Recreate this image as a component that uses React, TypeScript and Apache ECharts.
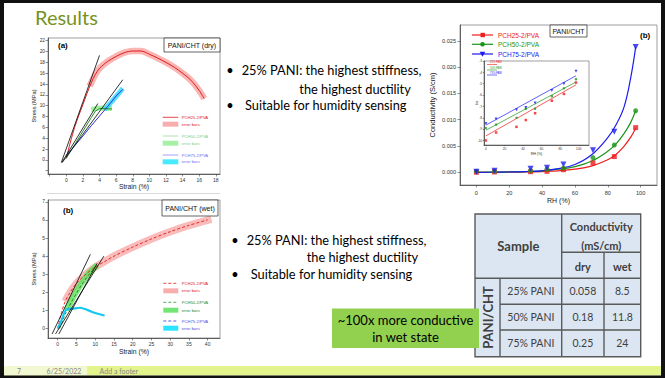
import React, { useEffect, useRef } from "react";
import * as echarts from "echarts";

// ---------- (a) dry stress-strain (Strain %, Stress MPa) ----------
const dryRed = [[0, 0.3], [0.5, 3.3], [1, 6.0], [1.5, 8.2], [2, 10.2], [2.5, 12.3], [3, 14.2], [3.5, 15.8], [4, 16.9], [4.5, 17.6], [5, 18.2], [6, 19.1], [7, 19.8], [8, 20.1], [9, 20.1], [10, 19.5], [11, 18.8], [12, 18.0], [13, 17.1], [14, 16.0], [15, 14.7], [16, 12.8], [16.6, 11.3]];
const dryRedBand = [[2.8, 13.6], [3.5, 15.8], [4, 16.9], [4.5, 17.6], [5, 18.2], [6, 19.1], [7, 19.8], [8, 20.1], [9, 20.1], [10, 19.5], [11, 18.8], [12, 18.0], [13, 17.1], [14, 16.0], [15, 14.7], [16, 12.8], [16.6, 11.3]];
const dryGreen = [[0, 0.3], [1, 2.8], [2, 5.3], [3, 7.8], [3.5, 9.0], [4, 9.5], [5.5, 9.4]];
const dryGreenBand = [[3, 9.3], [4, 9.6], [5.5, 9.5]];
const dryBlue = [[0, 0.8], [1, 2.6], [2, 4.4], [3, 6.3], [4, 8.1], [5, 9.9], [6, 11.8], [6.8, 13.0]];
const dryBlueBand = [[4.6, 9.3], [5.5, 10.8], [6.2, 12.1], [6.8, 13.2]];
const dryTangents = [[[-0.6, -0.5], [4, 19.3]], [[-0.5, -0.4], [3.8, 10.4]], [[-0.5, -0.5], [6.8, 14.8]]];

// ---------- (b) wet stress-strain ----------
const wetRed = [[0, 0], [1, 0.9], [2, 1.5], [3, 1.9], [5, 2.5], [7.5, 3.0], [10, 3.4], [12.5, 3.7], [15, 4.0], [20, 4.5], [25, 4.95], [30, 5.35], [35, 5.7], [40, 6.0]];
const wetRedBand = [[2, 1.5], [3, 1.9], [5, 2.5], [7.5, 3.0], [10, 3.4], [12.5, 3.7], [15, 4.0], [20, 4.5], [25, 4.95], [30, 5.35], [35, 5.7], [41, 6.05]];
const wetGreen = [[0.5, 0], [2, 0.8], [4, 1.6], [6, 2.3], [8, 2.9], [10, 3.4]];
const wetGreenBand = [[2.3, 1.0], [4, 1.7], [6, 2.4], [8, 3.0], [10.5, 3.5]];
const wetCyan = [[0, 0], [1, 0.45], [2.3, 1.05], [4, 1.1], [6, 1.15], [8, 1.02], [10, 0.86], [12.5, 0.72]];
const wetTangents = [[[-1.5, -0.3], [8.7, 4.1]], [[-0.6, -0.3], [12.3, 4.0]], [[0.3, -0.3], [10.5, 3.6]]];

// ---------- conductivity vs RH ----------
const rh = [0, 11, 33, 43, 53, 71, 84, 97];
const cond25 = [0.00002, 0.00008, 0.00012, 0.0002, 0.0005, 0.0018, 0.0030, 0.0085];
const cond50 = [0.0002, 0.0002, 0.0003, 0.0006, 0.0008, 0.0028, 0.0052, 0.0117];
const cond75 = [0.0001, 0.0003, 0.0007, 0.0009, 0.0015, 0.0042, 0.0077, 0.0238];
const fitRH = [0, 10, 20, 30, 40, 50, 60, 70, 80, 85, 90, 94, 97];
const fit25 = [0.00001, 0.00002, 0.00004, 0.00008, 0.00016, 0.0003, 0.0006, 0.0012, 0.0024, 0.0034, 0.0050, 0.0067, 0.0084];
const fit50 = [0.00002, 0.00004, 0.00008, 0.00015, 0.0003, 0.0006, 0.0011, 0.0021, 0.0040, 0.0054, 0.0074, 0.0095, 0.0117];
const fit75 = [0.00001, 0.00003, 0.00007, 0.00015, 0.0003, 0.0007, 0.0015, 0.0033, 0.0066, 0.0090, 0.0125, 0.018, 0.0238];

// ---------- inset ln(conductivity) ----------
const ln25 = [-10.0, -9.3, -8.8, -8.2, -7.6, -6.5, -5.9, -4.9];
const ln50 = [-8.9, -8.6, -8.0, -7.2, -7.2, -6.1, -5.4, -4.6];
const ln75 = [-8.5, -8.1, -7.3, -7.1, -6.7, -5.6, -5.0, -3.9];
const lnFitRH = [0, 97];
const lnFit25 = [-9.6, -5.1];
const lnFit50 = [-9.1, -4.85];
const lnFit75 = [-8.65, -4.3];

// ---------- tick labels ----------
const aXLabels = [0, 2, 4, 6, 8, 10, 12, 14, 16, 18];
const aXTicks = [-2, 0, 2, 4, 6, 8, 10, 12, 14, 16, 18];
const aYLabels = [0, 2, 4, 6, 8, 10, 12, 14, 16, 18, 20, 22];
const aYTicks = [-2, 0, 2, 4, 6, 8, 10, 12, 14, 16, 18, 20, 22];
const bXLabels = [0, 5, 10, 15, 20, 25, 30, 35, 40];
const bYLabels = [0, 1, 2, 3, 4, 5, 6, 7];
const cXLabels = [0, 20, 40, 60, 80, 100];
const cYLabels = [0, 0.005, 0.01, 0.015, 0.02, 0.025];
const iXLabels = [0, 20, 40, 60, 80, 100];
const iYLabels = [-10, -9, -8, -7, -6, -5, -4, -3];

// ---------- table ----------
const tableSamples = ["25% PANI", "50% PANI", "75% PANI"];
const tableDry = ["0.058", "0.18", "0.25"];
const tableWet = ["8.5", "11.8", "24"];

const seriesNames = ["PCH25-2/PVA", "PCH50-2/PVA", "PCH75-2/PVA"];
const bullets1 = ["25% PANI: the highest stiffness,", "the highest ductility", "Suitable for humidity sensing"];

const RED = "#ee1c1c", GREEN = "#1a961a", BLUE = "#1c1cf0";
const CF = "Liberation Sans";
const SF = "Lato";

function axis(o: any) {
  return {
    type: "value",
    gridIndex: o.grid,
    min: o.min,
    max: o.max,
    name: o.name,
    nameLocation: "middle",
    nameGap: o.nameGap,
    nameMoveOverlap: false,
    nameTextStyle: { fontSize: o.nameSize, color: "#222", fontFamily: CF },
    axisLine: { show: true, onZero: false, lineStyle: { color: "#444", width: 0.8 } },
    axisTick: { show: true, length: o.tickLen ?? 2.5, customValues: o.ticks ?? o.labels, lineStyle: { color: "#444", width: 0.6 } },
    axisLabel: {
      show: true, customValues: o.labels, fontSize: o.labelSize, margin: o.margin,
      color: "#333", fontFamily: CF, formatter: o.fmt,
    },
    splitLine: { show: false },
  };
}

function ln(xi: number, data: any, color: string, width: number, extra: any = {}) {
  return {
    type: "line", xAxisIndex: xi, yAxisIndex: xi, data, symbol: "none", silent: true,
    lineStyle: { color, width, ...(extra.lineStyle || {}) }, z: extra.z ?? 3, smooth: extra.smooth ?? false,
  };
}

function txt(x: number, y: number, text: string, size: number, o: any = {}) {
  return {
    type: "text", x, y, silent: true, z: 100, rotation: o.rot || 0,
    style: {
      text, fontSize: size, fontFamily: o.family || CF, fontWeight: o.bold ? "bold" : "normal",
      fill: o.color || "#000", textAlign: o.align || "left", textVerticalAlign: "middle",
    },
  };
}
function rect(x: number, y: number, w: number, h: number, fill: string, stroke?: string, lw?: number) {
  return { type: "rect", silent: true, z: 100, shape: { x, y, width: w, height: h }, style: { fill, stroke: stroke || null, lineWidth: lw || 0 } };
}
function seg(x1: number, y1: number, x2: number, y2: number, stroke: string, lw: number, dash?: number[]) {
  return { type: "line", silent: true, z: 100, shape: { x1, y1, x2, y2 }, style: { stroke, lineWidth: lw, lineDash: dash || null } };
}

function buildOption() {
  const pair = (xs: number[], ys: number[]) => xs.map((x, i) => [x, ys[i]]);
  const series: any[] = [];
  // (a)
  series.push(ln(0, dryRedBand, "rgba(245,120,120,0.55)", 6.5, { z: 2, smooth: 0.3 }));
  series.push(ln(0, dryGreenBand, "rgba(130,235,130,0.75)", 5, { z: 2 }));
  series.push(ln(0, dryBlueBand, "rgba(40,215,255,0.8)", 5, { z: 2 }));
  series.push(ln(0, dryRed, "#e01a1a", 1, { smooth: 0.3 }));
  series.push(ln(0, dryGreen, "#2a8f2a", 1));
  series.push(ln(0, dryBlue, "#2f2fd8", 1));
  dryTangents.forEach((t) => series.push(ln(0, t, "#000", 0.8, { z: 4 })));
  // (b)
  series.push(ln(1, wetRedBand, "rgba(245,120,120,0.5)", 7.5, { z: 2, smooth: 0.3 }));
  series.push(ln(1, wetGreenBand, "rgba(90,225,90,0.8)", 6, { z: 2 }));
  series.push(ln(1, wetRed, "#e01a1a", 0.9, { smooth: 0.3, lineStyle: { type: [3, 2] } }));
  series.push(ln(1, wetGreen, "#1e801e", 0.9, { lineStyle: { type: [3, 2] } }));
  series.push(ln(1, wetCyan, "#14c8f2", 2.2, { smooth: 0.3 }));
  wetTangents.forEach((t) => series.push(ln(1, t, "#000", 0.8, { z: 4 })));
  // conductivity
  series.push(ln(2, pair(fitRH, fit25), RED, 1.2, { smooth: 0.4 }));
  series.push(ln(2, pair(fitRH, fit50), GREEN, 1.2, { smooth: 0.4 }));
  series.push(ln(2, pair(fitRH, fit75), BLUE, 1.2, { smooth: 0.4 }));
  const sc = (xi: number, data: any, color: string, symbol: string, size: number, rot = 0) => ({
    type: "scatter", xAxisIndex: xi, yAxisIndex: xi, data, symbol, symbolSize: size, symbolRotate: rot,
    itemStyle: { color }, silent: true, z: 5,
  });
  series.push(sc(2, pair(rh, cond25), RED, "rect", 5));
  series.push(sc(2, pair(rh, cond50), GREEN, "circle", 5));
  series.push(sc(2, pair(rh, cond75), BLUE, "triangle", 6, 180));
  // inset
  series.push(ln(3, pair(lnFitRH, lnFit25), RED, 0.7));
  series.push(ln(3, pair(lnFitRH, lnFit50), GREEN, 0.7));
  series.push(ln(3, pair(lnFitRH, lnFit75), BLUE, 0.7));
  series.push(sc(3, pair(rh, ln25), RED, "rect", 2.5));
  series.push(sc(3, pair(rh, ln50), GREEN, "circle", 2.5));
  series.push(sc(3, pair(rh, ln75), BLUE, "triangle", 3, 180));

  const grid = (left: number, top: number, width: number, height: number, bg = "transparent") => ({
    left, top, width, height, show: true, borderColor: "#777", borderWidth: 0.7, backgroundColor: bg,
    containLabel: false, outerBoundsMode: "none",
  });

  const g: any[] = [];
  // slide frame & footer
  g.push(rect(4, 366, 657, 9.5, "#e4f48c"));
  g.push(rect(4, 366, 83, 9.5, "#f2f9d2"));
  g.push(txt(19, 371, "7", 7, { family: SF, color: "#888", align: "center" }));
  g.push(txt(46.6, 371, "6/25/2022", 7, { family: SF, color: "#888" }));
  g.push(txt(99.6, 371, "Add a footer", 7, { family: SF, color: "#888" }));
  g.push(rect(0, 0, 665, 3, "#111"));
  g.push(rect(0, 0, 4, 378, "#111"));
  g.push(rect(661, 0, 4, 378, "#111"));
  g.push(rect(0, 375.5, 665, 2.5, "#111"));
  // title
  g.push(txt(35, 17, "Results", 20, { family: SF, color: "#76921e" }));
  g.push(seg(47, 193.5, 220, 193.5, "#d0d0d0", 0.8));

  // (a) annotations
  g.push(txt(58, 45.5, "(a)", 8, { bold: true }));
  g.push(rect(164, 38, 56, 14, "#fff", "#222", 0.7));
  g.push(txt(192, 45, "PANI/CHT (dry)", 7, { align: "center", color: "#111" }));
  const legA = [
    { y: 117.3, ry: 121.7, line: "#e01a1a", band: "rgba(245,120,120,0.6)", tc: "#e01a1a" },
    { y: 136, ry: 140.7, line: "#9ad89a", band: "rgba(130,235,130,0.7)", tc: "#86cc86" },
    { y: 155, ry: 159.3, line: "#8a8aff", band: "rgba(40,230,255,0.85)", tc: "#7070f0" },
  ];
  legA.forEach((l, i) => {
    g.push(seg(162.7, l.y, 178.3, l.y, l.line, 0.8));
    g.push(txt(181.7, l.y, seriesNames[i], 4.2, { color: l.tc }));
    g.push(rect(162.7, l.ry, 15.6, 5, l.band));
    g.push(txt(181.7, l.ry + 2.5, "error bars", 4.2, { color: l.tc }));
  });
  // (b) annotations
  g.push(txt(63, 210, "(b)", 8, { bold: true }));
  g.push(rect(162, 200, 56, 16, "#fff", "#222", 0.7));
  g.push(txt(190, 208, "PANI/CHT (wet)", 7, { align: "center", color: "#111" }));
  const legB = [
    { y: 283.3, ry: 288.3, line: "#e01a1a", band: "rgba(245,120,120,0.6)", tc: "#e01a1a" },
    { y: 302.3, ry: 307.7, line: "#2a9a2a", band: "rgba(90,225,90,0.85)", tc: "#2a8a2a" },
    { y: 321, ry: 325.7, line: "#3030e0", band: "rgba(20,225,255,0.9)", tc: "#5050e0" },
  ];
  legB.forEach((l, i) => {
    g.push(seg(163.3, l.y, 178.3, l.y, l.line, 0.8, [3, 2]));
    g.push(txt(181.7, l.y, seriesNames[i], 4.2, { color: l.tc }));
    g.push(rect(163.3, l.ry, 15, 5, l.band));
    g.push(txt(181.7, l.ry + 2.5, "error bars", 4.2, { color: l.tc }));
  });

  // right chart annotations
  g.push(rect(550, 25, 37, 12, "#fff", "#222", 0.7));
  g.push(txt(568.5, 31, "PANI/CHT", 7, { align: "center", color: "#111" }));
  g.push(txt(640, 35, "(b)", 8, { bold: true }));
  const legC = [
    { y: 35, c: RED, m: "rect" },
    { y: 44.3, c: GREEN, m: "circle" },
    { y: 54, c: BLUE, m: "tri" },
  ];
  legC.forEach((l, i) => {
    g.push(seg(472, l.y, 493, l.y, l.c, 1.2));
    if (l.m === "rect") g.push({ type: "rect", silent: true, z: 100, shape: { x: 480.5, y: l.y - 2.2, width: 4.4, height: 4.4 }, style: { fill: l.c } });
    else if (l.m === "circle") g.push({ type: "circle", silent: true, z: 100, shape: { cx: 482.5, cy: l.y, r: 2.3 }, style: { fill: l.c } });
    else g.push({ type: "polygon", silent: true, z: 100, shape: { points: [[479.7, l.y - 2.3], [485.3, l.y - 2.3], [482.5, l.y + 2.8]] }, style: { fill: l.c } });
    g.push(txt(498, l.y, seriesNames[i], 6.5, { color: l.c }));
  });
  // inset legend
  [64.5, 70, 75].forEach((y, i) => {
    const c = [RED, GREEN, BLUE][i];
    g.push(seg(487, y, 497, y, c, 0.6));
    g.push(txt(490, y - 1.6, ["25% PANI", "50% PANI", "75% PANI"][i], 2.6, { color: c }));
  });

  // bullets
  const BF = 12.8;
  const bset = (bx: number, tx: number, t2x: number, t3x: number, y1: number, y2: number, y3: number) => {
    g.push(txt(bx, y1, "•", BF, { family: SF, align: "center" }));
    g.push(txt(tx, y1, bullets1[0], BF, { family: SF }));
    g.push(txt(t2x, y2, bullets1[1], BF, { family: SF }));
    g.push(txt(bx, y3, "•", BF, { family: SF, align: "center" }));
    g.push(txt(t3x, y3, bullets1[2], BF, { family: SF }));
  };
  bset(230, 241.7, 299.3, 245, 70, 88.5, 105);
  bset(235, 246.7, 306.7, 250.7, 240, 257.3, 274.3);

  // table
  const TX = [475, 500, 561.7, 604, 640.7];
  const TY = [214, 252.3, 278.3, 304.3, 330, 356.7];
  const bc = "#5a5a5a", tw = 1.4, tc = "#404040";
  g.push(rect(TX[0], TY[0], TX[4] - TX[0], TY[5] - TY[0], "#dce6f2"));
  g.push(seg(TX[2], TY[1], TX[4], TY[1], bc, tw));
  g.push(seg(TX[0], TY[2], TX[4], TY[2], bc, tw));
  g.push(seg(TX[1], TY[3], TX[4], TY[3], bc, tw));
  g.push(seg(TX[1], TY[4], TX[4], TY[4], bc, tw));
  g.push(seg(TX[1], TY[2], TX[1], TY[5], bc, tw));
  g.push(seg(TX[2], TY[0], TX[2], TY[5], bc, tw));
  g.push(seg(TX[3], TY[1], TX[3], TY[5], bc, tw));
  g.push({ type: "rect", silent: true, z: 100, shape: { x: TX[0], y: TY[0], width: TX[4] - TX[0], height: TY[5] - TY[0] }, style: { fill: null, stroke: bc, lineWidth: tw } });
  g.push(txt((TX[0] + TX[2]) / 2, 246, "Sample", 13, { family: SF, bold: true, color: tc, align: "center" }));
  g.push(txt((TX[2] + TX[4]) / 2, 226, "Conductivity", 11, { family: SF, bold: true, color: tc, align: "center" }));
  g.push(txt((TX[2] + TX[4]) / 2, 245.5, "(mS/cm)", 11, { family: SF, bold: true, color: tc, align: "center" }));
  g.push(txt((TX[2] + TX[3]) / 2, 266, "dry", 11, { family: SF, bold: true, color: tc, align: "center" }));
  g.push(txt((TX[3] + TX[4]) / 2, 266, "wet", 11, { family: SF, bold: true, color: tc, align: "center" }));
  g.push(txt(487.5, 317.5, "PANI/CHT", 13, { family: SF, bold: true, color: tc, align: "center", rot: Math.PI / 2 }));
  tableSamples.forEach((s, i) => {
    const y = (TY[i + 2] + TY[i + 3]) / 2;
    g.push(txt((TX[1] + TX[2]) / 2, y, s, 10.5, { family: SF, color: tc, align: "center" }));
    g.push(txt((TX[2] + TX[3]) / 2, y, tableDry[i], 10.5, { family: SF, color: tc, align: "center" }));
    g.push(txt((TX[3] + TX[4]) / 2, y, tableWet[i], 10.5, { family: SF, color: tc, align: "center" }));
  });

  // green note box
  g.push(rect(332, 308.5, 147, 39.5, "#92d050"));
  g.push(txt(405.5, 320, "~100x more conductive", 13, { family: SF, align: "center" }));
  g.push(txt(405.5, 336.7, "in wet state", 13, { family: SF, align: "center" }));

  return {
    animation: false,
    backgroundColor: "#fff",
    grid: [grid(48, 38, 172, 136), grid(48, 200, 172, 138), grid(460, 25, 197, 160), grid(484, 61, 105, 84, "#fff")],
    xAxis: [
      axis({ grid: 0, min: -2.2, max: 18.5, labels: aXLabels, ticks: aXTicks, name: "Strain (%)", nameGap: 9, nameSize: 6.8, labelSize: 5, margin: 3 }),
      axis({ grid: 1, min: -2.6, max: 43.3, labels: bXLabels, name: "Strain (%)", nameGap: 10, nameSize: 6.8, labelSize: 5, margin: 3.5 }),
      axis({ grid: 2, min: -10, max: 110, labels: cXLabels, name: "RH (%)", nameGap: 12, nameSize: 7, labelSize: 5.6, margin: 4.5 }),
      axis({ grid: 3, min: -2, max: 111, labels: iXLabels, name: "RH (%)", nameGap: 7, nameSize: 3.5, labelSize: 3.2, margin: 2, tickLen: 1.2 }),
    ],
    yAxis: [
      axis({ grid: 0, min: -2.6, max: 22.5, labels: aYLabels, ticks: aYTicks, name: "Stress (MPa)", nameGap: 11, nameSize: 5.7, labelSize: 4.8, margin: 3 }),
      axis({ grid: 1, min: -0.52, max: 7.1, labels: bYLabels, name: "Stress (MPa)", nameGap: 11, nameSize: 5.7, labelSize: 4.8, margin: 3 }),
      axis({ grid: 2, min: -0.0024, max: 0.028, labels: cYLabels, name: "Conductivity (S/cm)", nameGap: 24, nameSize: 7.5, labelSize: 5.6, margin: 4, fmt: (v: number) => v.toFixed(3) }),
      axis({ grid: 3, min: -10.4, max: -3, labels: iYLabels, name: "lnσ", nameGap: 6, nameSize: 3.2, labelSize: 3.2, margin: 2, tickLen: 1.2 }),
    ],
    series,
    graphic: { elements: g },
  };
}

export default function App() {
  const ref = useRef<HTMLDivElement>(null);
  useEffect(() => {
    const chart = echarts.init(ref.current!, null, { renderer: "svg" });
    chart.setOption(buildOption() as any);
    return () => chart.dispose();
  }, []);
  return <div ref={ref} style={{ position: "absolute", left: 0, top: 0, width: 665, height: 378, background: "#fff" }} />;
}
